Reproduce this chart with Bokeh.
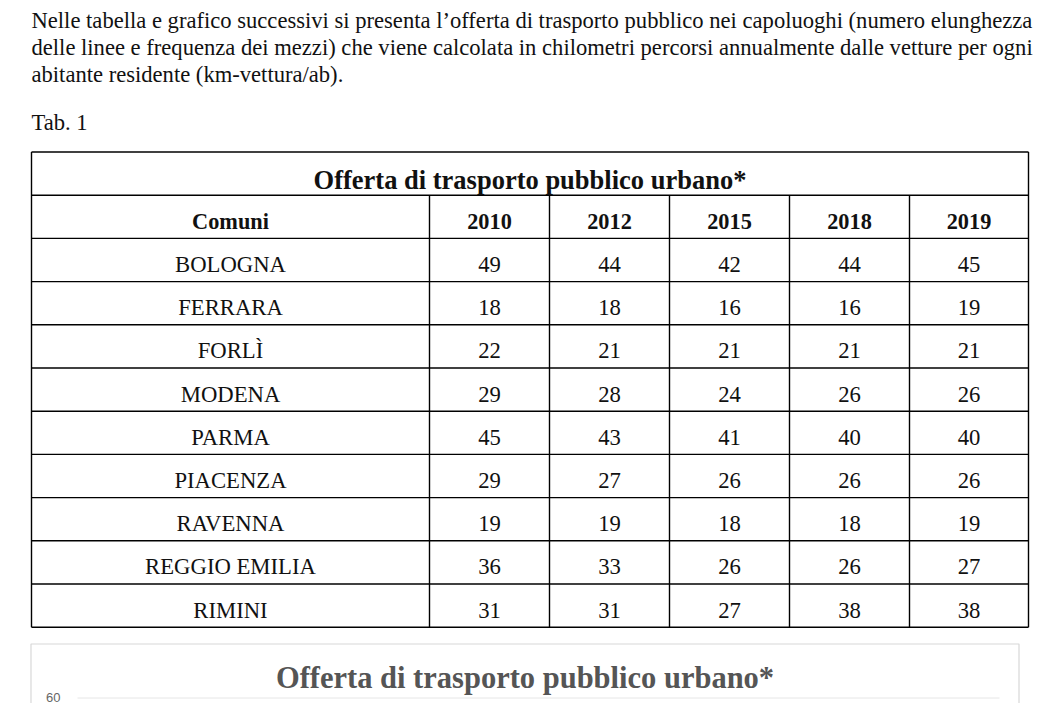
from bokeh.plotting import figure
from bokeh.models import Range1d
from bokeh.core.properties import value
from bokeh.embed import file_html
from bokeh.resources import INLINE

# ---------------- data ----------------
PARAGRAPH_LINES = [
    "Nelle tabella e grafico successivi si presenta l\u2019offerta di trasporto pubblico nei capoluoghi (numero elunghezza",
    "delle linee e frequenza dei mezzi) che viene calcolata in chilometri percorsi annualmente dalle vetture per ogni",
    "abitante residente (km-vettura/ab).",
]
TAB_LABEL = "Tab. 1"
TABLE_TITLE = "Offerta di trasporto pubblico urbano*"
CHART_TITLE = "Offerta di trasporto pubblico urbano*"
HEADER_FIRST = "Comuni"
YEARS = ["2010", "2012", "2015", "2018", "2019"]
COMUNI = ["BOLOGNA", "FERRARA", "FORL\u00cc", "MODENA", "PARMA", "PIACENZA",
          "RAVENNA", "REGGIO EMILIA", "RIMINI"]
Y2010 = [49, 18, 22, 29, 45, 29, 19, 36, 31]
Y2012 = [44, 18, 21, 28, 43, 27, 19, 33, 31]
Y2015 = [42, 16, 21, 24, 41, 26, 18, 26, 27]
Y2018 = [44, 16, 21, 26, 40, 26, 18, 26, 38]
Y2019 = [45, 19, 21, 26, 40, 26, 19, 27, 38]
SERIES = [Y2010, Y2012, Y2015, Y2018, Y2019]
Y_TICKS = [60]

# ---------------- layout (picture pixel coordinates) ----------------
W, H = 1035, 703
SERIF = value("Liberation Serif")
TXT = "#111111"


def tb(y, fs):
    # alphabetic baseline correction for SVG text rendering
    return y - 0.36 * fs


p = figure(width=W, height=H, output_backend="svg", toolbar_location=None,
           x_range=Range1d(0, W), y_range=Range1d(H, 0),
           x_axis_type=None, y_axis_type=None, min_border=0,
           outline_line_color=None, background_fill_color="white",
           border_fill_color="white")
p.grid.visible = False

# paragraph
FS_P = 22.6
para_x = [31] * len(PARAGRAPH_LINES)
para_y = [tb(27.7 + 27 * i, FS_P) for i in range(len(PARAGRAPH_LINES))]
p.text(x=para_x, y=para_y, text=PARAGRAPH_LINES, text_font=SERIF,
       text_font_size=f"{FS_P}px", text_color=TXT, text_align="left",
       text_baseline="alphabetic")
p.text(x=[31], y=[tb(130, FS_P)], text=[TAB_LABEL], text_font=SERIF,
       text_font_size=f"{FS_P}px", text_color=TXT, text_align="left",
       text_baseline="alphabetic")

# table geometry
col_edges = [31, 429, 549, 669, 789, 909, 1028]
row_top = 151.5
row_h = 43.2
n_rows = 2 + len(COMUNI)
row_edges = [row_top + row_h * i for i in range(n_rows + 1)]
col_centers = [(col_edges[i] + col_edges[i + 1]) / 2 for i in range(len(col_edges) - 1)]

LW = 1.4
p.segment(x0=[col_edges[0]] * len(row_edges), x1=[col_edges[-1]] * len(row_edges),
          y0=row_edges, y1=row_edges, line_color="black", line_width=LW)
p.segment(x0=[col_edges[0], col_edges[-1]], x1=[col_edges[0], col_edges[-1]],
          y0=[row_edges[0]] * 2, y1=[row_edges[-1]] * 2, line_color="black", line_width=LW)
inner = col_edges[1:-1]
p.segment(x0=inner, x1=inner, y0=[row_edges[1]] * len(inner), y1=[row_edges[-1]] * len(inner),
          line_color="black", line_width=LW)

FS_T = 26.5
FS_H = 22.3
FS_D = 22.7
# title row
p.text(x=[(col_edges[0] + col_edges[-1]) / 2], y=[tb(row_edges[0] + 37.3, FS_T)],
       text=[TABLE_TITLE], text_font=SERIF, text_font_size=f"{FS_T}px",
       text_font_style="bold", text_color=TXT, text_align="center",
       text_baseline="alphabetic")
# header row
hdr = [HEADER_FIRST] + YEARS
p.text(x=col_centers, y=[tb(row_edges[1] + 34.0, FS_H)] * len(hdr), text=hdr,
       text_font=SERIF, text_font_size=f"{FS_H}px", text_font_style="bold",
       text_color=TXT, text_align="center", text_baseline="alphabetic")
# data rows
xs, ys, ts = [], [], []
for r, name in enumerate(COMUNI):
    yb = tb(row_edges[2 + r] + 34.3, FS_D)
    xs.append(col_centers[0]); ys.append(yb); ts.append(name)
    for c, ser in enumerate(SERIES):
        xs.append(col_centers[1 + c]); ys.append(yb); ts.append(str(ser[r]))
p.text(x=xs, y=ys, text=ts, text_font=SERIF, text_font_size=f"{FS_D}px",
       text_color=TXT, text_align="center", text_baseline="alphabetic")

# ---------------- chart panel (cut by the window) ----------------
panel_l, panel_r, panel_t = 30.5, 1018.5, 643.5
p.quad(left=[panel_l], right=[panel_r], top=[panel_t], bottom=[760],
       fill_color="white", line_color="#d8d8d8", line_width=1.2)
FS_C = 30.5
p.text(x=[(panel_l + panel_r) / 2], y=[tb(688, FS_C)], text=[CHART_TITLE], text_font=SERIF,
       text_font_size=f"{FS_C}px", text_font_style="bold", text_color="#555555",
       text_align="center", text_baseline="alphabetic")

# chart value scale: 60 sits near the bottom edge, ~5.3 px per unit
plot_l, plot_r = 77, 999
k = 5.3
y60 = 697.5
p.extra_y_ranges = {"val": Range1d(start=60 - (H - y60) / k, end=60 + y60 / k)}
band = (plot_r - plot_l) / len(YEARS)
p.extra_x_ranges = {"cat": Range1d(start=(0 - plot_l) / band - 0.5,
                                   end=(W - plot_l) / band - 0.5)}

cat_left = -0.5
cat_right = len(YEARS) - 0.5
p.segment(x0=[cat_left] * len(Y_TICKS), x1=[cat_right] * len(Y_TICKS),
          y0=Y_TICKS, y1=Y_TICKS, x_range_name="cat", y_range_name="val",
          line_color="#e6e6e6", line_width=1)
p.text(x=[cat_left] * len(Y_TICKS), y=Y_TICKS, text=[str(t) for t in Y_TICKS],
       x_range_name="cat", y_range_name="val", x_offset=-17, y_offset=-1,
       text_font=value("Liberation Sans"), text_font_size="13px",
       text_color="#666666", text_align="right", text_baseline="middle")

palette = ["#7cb5ec", "#434348", "#90ed7d", "#f7a35c", "#8085e9",
           "#f15c80", "#e4d354", "#2b908f", "#f45b5b"]
idx = list(range(len(YEARS)))
for r, name in enumerate(COMUNI):
    vals = [ser[r] for ser in SERIES]
    p.line(x=idx, y=vals, x_range_name="cat", y_range_name="val",
           line_color=palette[r], line_width=2)

open("out.html", "w").write(file_html(p, INLINE))
